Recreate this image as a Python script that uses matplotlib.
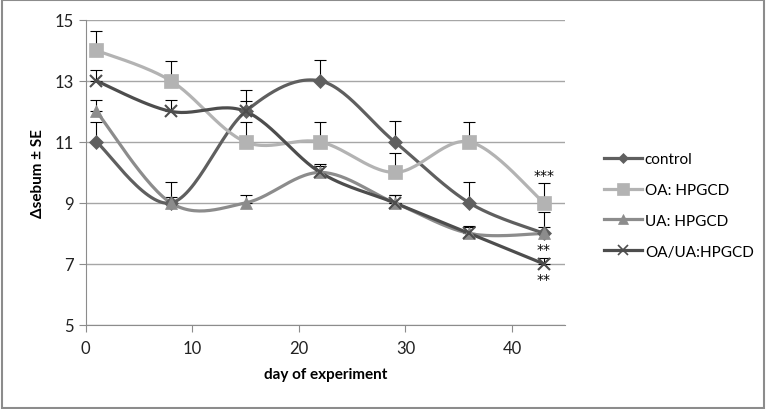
import numpy as np
import matplotlib
matplotlib.use("Agg")
import matplotlib.pyplot as plt

plt.rcParams['font.family'] = ['Lato', 'DejaVu Sans']

days = [1, 8, 15, 22, 29, 36, 43]

control = [11, 9, 12, 13, 11, 9, 8]
control_se = [0.66, 0.69, 0.7, 0.69, 0.67, 0.69, 0.7]
oa = [14, 13, 11, 11, 10, 11, 9]
oa_se = [0.65, 0.65, 0.65, 0.65, 0.63, 0.65, 0.65]
ua = [12, 9, 9, 10, 9, 8, 8]
ua_se = [0.38, 0.2, 0.26, 0.28, 0.26, 0.25, 0.2]
oaua = [13, 12, 12, 10, 9, 8, 7]
oaua_se = [0.36, 0.37, 0.35, 0.2, 0.25, 0.2, 0.2]


def smooth(x, y, n=30):
    # Excel-like bezier smoothing
    x = np.asarray(x, float)
    y = np.asarray(y, float)
    px = np.concatenate([[x[0]], x, [x[-1]]])
    py = np.concatenate([[y[0]], y, [y[-1]]])
    xs, ys = [], []
    t = np.linspace(0, 1, n)
    for i in range(1, len(px) - 2):
        p0 = np.array([px[i], py[i]])
        p3 = np.array([px[i + 1], py[i + 1]])
        p1 = p0 + (np.array([px[i + 1], py[i + 1]]) - np.array([px[i - 1], py[i - 1]])) / 6
        p2 = p3 - (np.array([px[i + 2], py[i + 2]]) - np.array([px[i], py[i]])) / 6
        b = ((1 - t) ** 3)[:, None] * p0 + (3 * (1 - t) ** 2 * t)[:, None] * p1 \
            + (3 * (1 - t) * t ** 2)[:, None] * p2 + (t ** 3)[:, None] * p3
        xs.extend(b[:, 0])
        ys.extend(b[:, 1])
    return xs, ys


fig = plt.figure(figsize=(7.66, 4.10), dpi=100)
ax = fig.add_axes([0.112, 0.205, 0.626, 0.744])

series = [
    ("control", control, control_se, "#5f5f5f", "D", 7),
    ("OA: HPGCD", oa, oa_se, "#b3b3b3", "s", 10),
    ("UA: HPGCD", ua, ua_se, "#8c8c8c", "^", 9),
    ("OA/UA:HPGCD", oaua, oaua_se, "#4d4d4d", "x", 9),
]

for name, vals, se, col, mk, ms in series:
    ax.errorbar(days, vals, yerr=[np.zeros(len(se)), se], fmt="none",
                ecolor="black", elinewidth=0.8, capsize=4, capthick=0.8, zorder=2)

handles = []
for name, vals, se, col, mk, ms in series:
    sx, sy = smooth(days, vals)
    ax.plot(sx, sy, color=col, lw=2.3, zorder=3)
    ax.plot(days, vals, linestyle="none", marker=mk, color=col, markersize=ms,
            markeredgewidth=1.5 if mk == "x" else 0.5, zorder=4)
    h, = ax.plot([], [], color=col, lw=2.3, marker=mk, markersize=ms * 0.8,
                 markeredgewidth=1.2 if mk == "x" else 0.5)
    handles.append(h)

star_font = dict(ha="center", fontsize=10, family="DejaVu Sans")
ax.text(43, 9.68, "***", va="bottom", **star_font)
ax.text(43, 7.72, "**", va="top", **star_font)
ax.text(43, 6.72, "**", va="top", **star_font)

ax.set_xlim(0, 45)
ax.set_ylim(5, 15)
ax.set_xticks([0, 10, 20, 30, 40])
ax.set_yticks([5, 7, 9, 11, 13, 15])
ax.yaxis.grid(True, color="#a6a6a6", lw=1)
ax.set_axisbelow(True)
for s in ["top", "right"]:
    ax.spines[s].set_visible(False)
for s in ["left", "bottom"]:
    ax.spines[s].set_color("#8c8c8c")
ax.tick_params(colors="#8c8c8c", labelcolor="#222222", labelsize=12, length=5)
ax.tick_params(axis="x", pad=6)
ax.set_xlabel("day of experiment", fontweight="bold", fontsize=11, labelpad=8)
ax.set_ylabel("\u0394sebum \u00b1 SE", fontweight="bold", fontsize=11, labelpad=7)

fig.legend(handles, [s[0] for s in series], loc="upper left",
           bbox_to_anchor=(0.77, 0.66), frameon=False, fontsize=11,
           labelspacing=1.1, handlelength=2.5, handletextpad=0.2)

fig.patches.append(plt.Rectangle((0.002, 0.003), 0.996, 0.994, transform=fig.transFigure,
                                 fill=False, edgecolor="#8c8c8c", lw=1.5))
fig.savefig("out.png", dpi=100)
